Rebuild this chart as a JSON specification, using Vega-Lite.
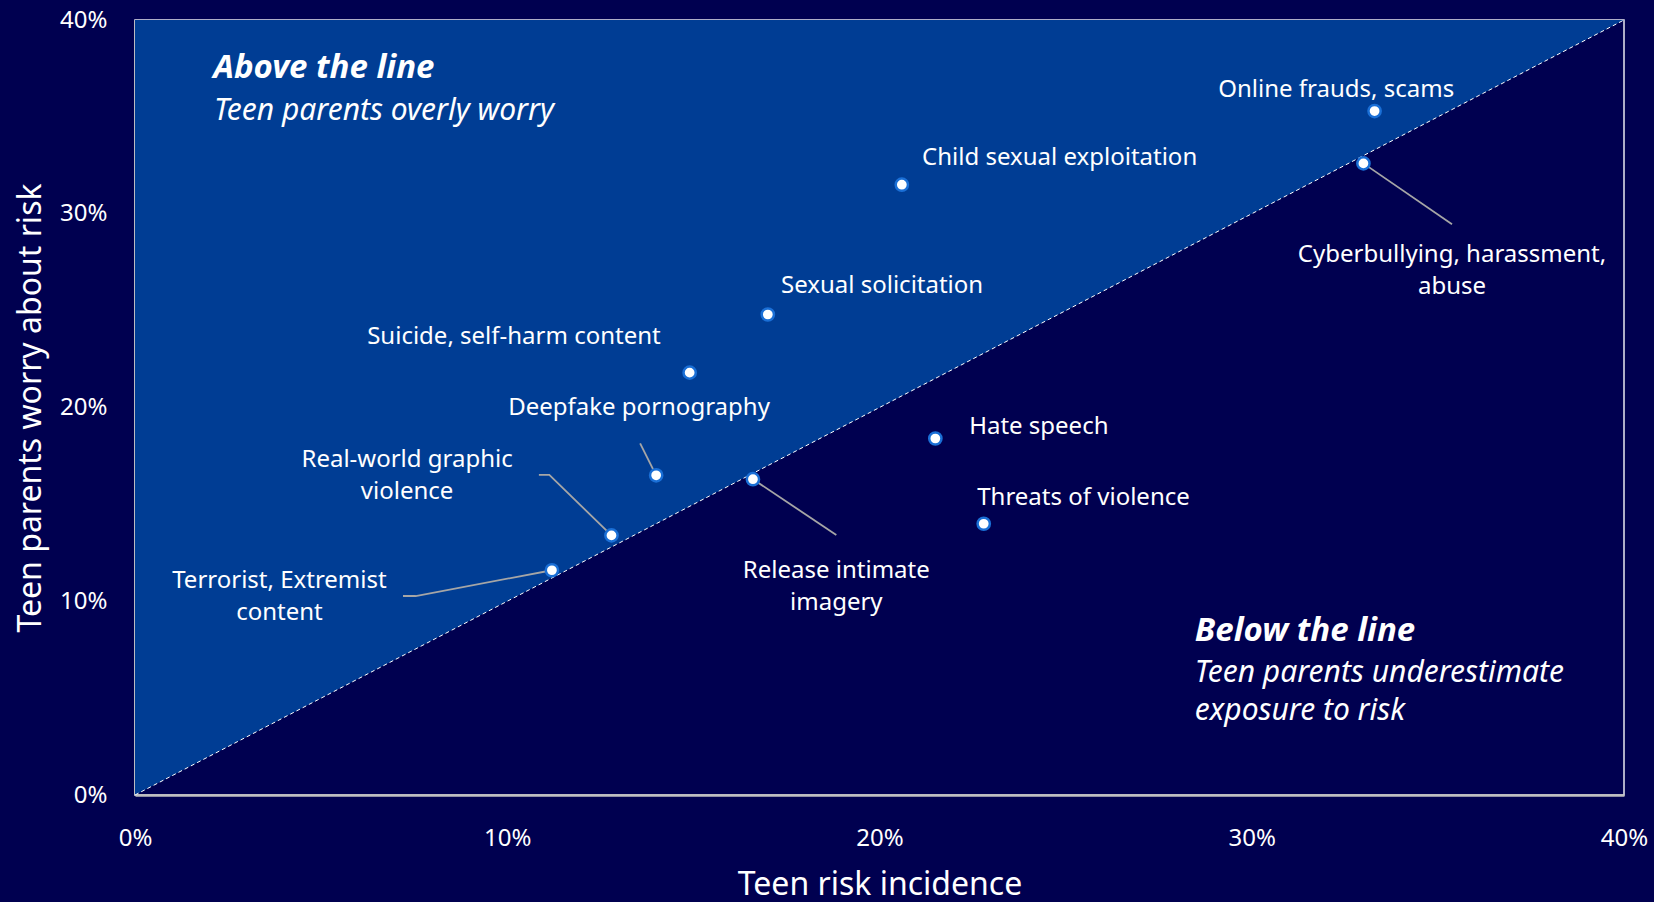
{
  "$schema": "https://vega.github.io/schema/vega-lite/v6.json",
  "width": 1489,
  "height": 775,
  "autosize": {"type": "none"},
  "padding": {"left": 135, "top": 20, "right": 30, "bottom": 107},
  "background": "#000050",
  "config": {
    "view": {"stroke": "#e8e8f0", "strokeWidth": 1.5},
    "font": "Noto Sans"
  },
  "datasets": {
    "diag": [{"x": 0, "y": 0}, {"x": 40, "y": 40}],
    "points": [
      {"name": "Online frauds, scams", "x": 33.3, "y": 35.3},
      {"name": "Cyberbullying, harassment, abuse", "x": 33.0, "y": 32.6},
      {"name": "Child sexual exploitation", "x": 20.6, "y": 31.5},
      {"name": "Sexual solicitation", "x": 17.0, "y": 24.8},
      {"name": "Suicide, self-harm content", "x": 14.9, "y": 21.8},
      {"name": "Deepfake pornography", "x": 14.0, "y": 16.5},
      {"name": "Release intimate imagery", "x": 16.6, "y": 16.3},
      {"name": "Hate speech", "x": 21.5, "y": 18.4},
      {"name": "Threats of violence", "x": 22.8, "y": 14.0},
      {"name": "Real-world graphic violence", "x": 12.8, "y": 13.4},
      {"name": "Terrorist, Extremist content", "x": 11.2, "y": 11.6}
    ],
    "labels": [
      {"text": "Online frauds, scams", "lx": 32.27, "ly": 36.4},
      {"text": "Cyberbullying, harassment,\nabuse", "lx": 35.38, "ly": 27.88},
      {"text": "Child sexual exploitation", "lx": 24.84, "ly": 32.9},
      {"text": "Sexual solicitation", "lx": 20.07, "ly": 26.25},
      {"text": "Suicide, self-harm content", "lx": 10.18, "ly": 23.64},
      {"text": "Deepfake pornography", "lx": 13.54, "ly": 19.95},
      {"text": "Real-world graphic\nviolence", "lx": 7.31, "ly": 17.28},
      {"text": "Terrorist, Extremist\ncontent", "lx": 3.88, "ly": 11.03},
      {"text": "Release intimate\nimagery", "lx": 18.84, "ly": 11.58},
      {"text": "Hate speech", "lx": 24.28, "ly": 18.97},
      {"text": "Threats of violence", "lx": 25.48, "ly": 15.33}
    ],
    "leaders": [
      {"id": "cyber", "ord": 1, "x": 33.0, "y": 32.6},
      {"id": "cyber", "ord": 2, "x": 35.38, "y": 29.46},
      {"id": "release", "ord": 1, "x": 16.6, "y": 16.3},
      {"id": "release", "ord": 2, "x": 18.84, "y": 13.42},
      {"id": "deepfake", "ord": 1, "x": 13.57, "y": 18.15},
      {"id": "deepfake", "ord": 2, "x": 14.0, "y": 16.5},
      {"id": "realworld", "ord": 1, "x": 10.85, "y": 16.52},
      {"id": "realworld", "ord": 2, "x": 11.13, "y": 16.52},
      {"id": "realworld", "ord": 3, "x": 12.8, "y": 13.4},
      {"id": "terror", "ord": 1, "x": 7.2, "y": 10.27},
      {"id": "terror", "ord": 2, "x": 7.54, "y": 10.27},
      {"id": "terror", "ord": 3, "x": 11.2, "y": 11.6}
    ],
    "headings": [
      {"text": "Above the line", "lx": 2.1, "ly": 37.5},
      {"text": "Below the line", "lx": 28.47, "ly": 8.48}
    ],
    "subs": [
      {"text": "Teen parents overly worry", "lx": 2.12, "ly": 35.3},
      {"text": "Teen parents underestimate", "lx": 28.47, "ly": 6.3},
      {"text": "exposure to risk", "lx": 28.47, "ly": 4.35}
    ]
  },
  "layer": [
    {
      "data": {"name": "diag"},
      "mark": {"type": "area", "color": "#003D94", "opacity": 1},
      "encoding": {
        "x": {
          "field": "x", "type": "quantitative",
          "scale": {"domain": [0, 40], "nice": false, "zero": true},
          "axis": {
            "title": "Teen risk incidence",
            "values": [0, 10, 20, 30, 40],
            "labelExpr": "datum.value + '%'",
            "labelFlush": false,
            "grid": false, "ticks": false, "tickSize": 0,
            "domainColor": "#bfbfbf", "domainWidth": 2.5,
            "labelColor": "#ffffff", "labelFontSize": 24, "labelPadding": 31,
            "labelFont": "Noto Sans",
            "titleColor": "#ffffff", "titleFontSize": 32, "titleFontWeight": "normal",
            "titlePadding": 19, "titleFont": "Noto Sans"
          }
        },
        "y": {
          "field": "y", "type": "quantitative",
          "scale": {"domain": [0, 40], "nice": false, "zero": true},
          "axis": {
            "title": "Teen parents worry about risk",
            "values": [0, 10, 20, 30, 40],
            "labelExpr": "datum.value + '%'",
            "labelFlush": false,
            "grid": false, "ticks": false, "tickSize": 0,
            "domainColor": "#bfbfbf", "domainWidth": 2.5,
            "labelColor": "#ffffff", "labelFontSize": 24, "labelPadding": 28,
            "labelFont": "Noto Sans",
            "titleColor": "#ffffff", "titleFontSize": 32, "titleFontWeight": "normal",
            "titlePadding": 12, "titleFont": "Noto Sans"
          }
        },
        "y2": {"datum": 40}
      }
    },
    {
      "data": {"name": "diag"},
      "mark": {"type": "line", "color": "#ffffff", "strokeWidth": 1, "strokeDash": [4, 3]},
      "encoding": {
        "x": {"field": "x", "type": "quantitative"},
        "y": {"field": "y", "type": "quantitative"}
      }
    },
    {
      "data": {"name": "leaders"},
      "mark": {"type": "line", "color": "#a6a6a6", "strokeWidth": 1.8},
      "encoding": {
        "x": {"field": "x", "type": "quantitative"},
        "y": {"field": "y", "type": "quantitative"},
        "detail": {"field": "id"},
        "order": {"field": "ord", "type": "quantitative"}
      }
    },
    {
      "data": {"name": "points"},
      "mark": {"type": "point", "filled": true, "fill": "#ffffff", "stroke": "#1A6FD6", "strokeWidth": 2.5, "size": 150, "opacity": 1},
      "encoding": {
        "x": {"field": "x", "type": "quantitative"},
        "y": {"field": "y", "type": "quantitative"}
      }
    },
    {
      "data": {"name": "labels"},
      "mark": {"type": "text", "color": "#ffffff", "fontSize": 24, "font": "Noto Sans", "align": "center", "baseline": "middle", "lineBreak": "\n", "lineHeight": 32},
      "encoding": {
        "x": {"field": "lx", "type": "quantitative"},
        "y": {"field": "ly", "type": "quantitative"},
        "text": {"field": "text"}
      }
    },
    {
      "data": {"name": "headings"},
      "mark": {"type": "text", "color": "#ffffff", "fontSize": 33, "font": "Noto Sans", "fontWeight": "bold", "fontStyle": "italic", "align": "left", "baseline": "middle"},
      "encoding": {
        "x": {"field": "lx", "type": "quantitative"},
        "y": {"field": "ly", "type": "quantitative"},
        "text": {"field": "text"}
      }
    },
    {
      "data": {"name": "subs"},
      "mark": {"type": "text", "color": "#ffffff", "fontSize": 30, "font": "Noto Sans", "fontStyle": "italic", "align": "left", "baseline": "middle"},
      "encoding": {
        "x": {"field": "lx", "type": "quantitative"},
        "y": {"field": "ly", "type": "quantitative"},
        "text": {"field": "text"}
      }
    }
  ]
}
